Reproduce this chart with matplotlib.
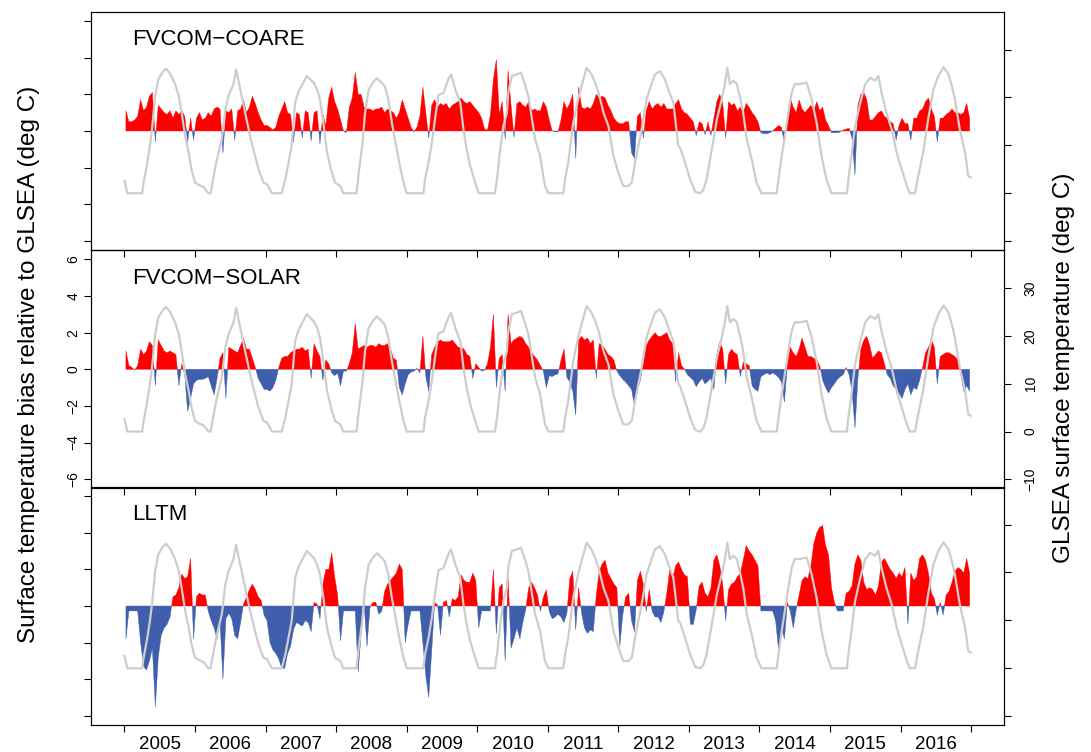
"""Surface temperature bias of three lake models against GLSEA, 2005-2016.

Three stacked panels (FVCOM-COARE, FVCOM-SOLAR, LLTM): daily bias as red/blue
spikes around zero, GLSEA surface temperature as a grey line on a right axis.
"""

import matplotlib.pyplot as plt
import numpy as np

plt.rcParams["font.family"] = ["Liberation Sans", "DejaVu Sans"]

RED = "#FF0000"
BLUE = "#3F5FAD"
GREY = "#CDCDCD"

YEARS = list(range(2005, 2017))
SLOTS_PER_YEAR = 24  # bias at half-month resolution

# ── bias (deg C), 24 values per year, 2005 → 2016 ─────────────────────────
coare_bias = [
    1.1, 0.5, 0.5, 0.6, 0.8, 1.7, 1.1, 1.3, 1.9, 2.1, -0.6, 1.4, 1.2, 1.0, 0.9, 1.1, 0.7, 1.1, 0.9, 1.1, 0.8, -0.6, 0.7, -0.5,
    0.7, 1.0, 0.6, 0.7, 1.0, 0.8, 1.2, 1.3, 1.2, -1.2, 1.1, 1.0, 1.2, -0.5, 1.1, 1.2, 1.7, 1.0, 1.3, 1.9, 1.5, 1.0, 0.6, 0.3,
    0.3, 0.2, 0.05, 0.2, 0.8, 1.2, 1.6, 1.0, 0.9, -0.6, 1.0, 0.9, -0.4, 1.1, 1.0, -0.55, 1.0, 1.1, -0.7, 0.9, 0.3, 1.8, 2.4, 1.6,
    1.2, 0.6, 0.0, -0.1, 1.3, 1.8, 3.2, 2.0, 2.0, 1.3, 1.2, 1.2, 1.1, 1.2, 1.2, 1.3, 1.0, 1.2, 1.1, 1.0, 0.7, 1.0, 1.7, 1.2,
    0.7, 0.2, -0.05, 0.2, 0.8, 2.4, 1.0, -0.4, 1.4, 1.7, 1.3, 1.5, 1.4, 1.5, 1.2, 1.4, 1.5, 1.6, 1.8, 1.6, 1.5, 1.6, 1.4, 1.2,
    1.0, 0.7, 0.1, 0.05, 0.9, 2.8, 3.9, 0.9, 1.6, -0.45, 3.3, 1.4, -0.35, 1.5, 1.6, 1.4, 1.3, 1.6, 1.1, 1.2, 1.1, 1.1, 1.6, 1.3,
    0.6, 0.0, -0.05, -0.05, 0.6, 1.6, 1.2, 1.5, 2.0, -1.5, 2.4, 1.3, 1.2, 1.3, 1.2, 1.5, 2.0, 1.8, 1.9, 1.8, 1.4, 1.1, 0.7, 0.5,
    0.4, 0.4, 0.5, 0.5, -1.2, -1.5, 0.8, 1.0, -0.4, 1.1, 1.6, 1.2, 1.4, 1.5, 1.3, 1.5, 1.2, 1.2, 1.2, 1.5, 1.7, 1.2, 1.0, 0.9,
    0.7, 0.5, -0.25, 0.5, 0.4, -0.2, 0.5, -0.25, 0.7, 1.6, 2.0, 1.5, -0.4, 1.6, 1.4, 1.5, 1.1, 1.3, 1.0, 1.5, 1.3, 1.0, 0.8, 0.5,
    -0.1, -0.15, -0.15, -0.1, 0.0, 0.15, 0.3, 0.2, -0.7, 0.8, 1.8, 1.3, 1.0, 1.7, 1.2, 1.0, 1.2, 1.4, 1.1, 1.6, 1.1, 1.3, 0.6, 0.3,
    -0.1, -0.1, -0.1, -0.05, 0.05, 0.1, 0.15, -0.4, -2.4, 1.4, 2.0, 2.1, 1.7, 0.6, 0.6, 0.8, 1.0, 1.1, 0.8, 0.7, 0.5, 0.4, -0.5, 0.3,
    0.7, 0.4, 0.4, -0.5, 0.7, 0.7, 1.1, 1.2, 1.6, 1.8, 1.2, 0.8, -0.6, 0.7, 0.7, 0.9, 1.0, 1.2, 1.0, 1.0, 0.9, 1.0, 1.5, 0.7,
]

solar_bias = [
    1.0, 0.2, 0.1, -0.05, 0.2, 1.1, 0.8, 1.0, 1.5, 1.3, -0.9, 1.6, 1.3, 1.0, 0.9, 1.0, 0.9, 0.8, -0.9, 0.3, -0.3, -2.3, -1.6, -0.8,
    -0.6, -0.55, -0.55, -0.5, -0.4, -0.9, -1.4, -0.5, 0.6, 0.9, -1.6, 1.2, 1.1, 1.0, 0.9, 1.3, 1.7, 1.1, 1.1, 0.6, 0.1, -0.5, -0.8, -1.1,
    -1.1, -1.2, -1.0, -0.6, 0.1, 0.6, 0.7, 0.7, 0.9, 1.0, 1.1, 1.1, 1.2, 1.0, 1.1, -0.5, 1.4, 1.0, 0.7, -0.6, 0.5, 0.3, -0.2, -0.35,
    -0.2, -0.9, -0.1, -0.1, 0.3, 0.9, 2.5, 1.1, 1.2, 1.3, 1.2, 1.3, 1.3, 1.2, 1.4, 1.3, 1.3, 1.4, 1.1, 0.6, 0.5, -1.0, -1.4, -0.8,
    -0.3, -0.15, -0.1, 0.05, -0.2, 1.8, -0.4, -1.2, 0.8, 1.2, 1.5, 1.6, 1.5, 1.5, 1.5, 1.6, 1.4, 1.2, 1.2, 1.1, 0.8, 0.7, -0.5, 0.3,
    0.1, -0.1, -0.05, 0.3, 1.2, 3.0, -1.0, 0.6, 0.8, -1.2, 3.0, 1.4, 1.6, 1.7, 1.8, 1.7, 1.4, 1.2, 0.9, 0.7, 0.5, 0.2, -0.1, -1.0,
    -0.35, -0.4, -0.3, -0.25, 0.5, 1.1, -0.45, -0.7, -1.2, -2.5, 1.6, 1.8, 1.6, 1.7, 1.4, 1.6, -0.5, 1.4, 1.3, 1.1, 0.8, 0.7, 0.5, -0.1,
    -0.35, -0.55, -0.7, -0.9, -1.1, -2.0, -1.1, -0.6, 0.3, 1.3, 1.6, 1.8, 2.0, 1.8, 1.8, 1.9, 2.0, 1.6, 1.4, -0.7, 0.9, 0.2, 0.0, -0.3,
    -0.45, -0.6, -0.95, -0.7, -0.5, -0.8, -0.65, -0.5, -1.1, 0.8, 1.5, 1.1, -0.8, 0.8, 1.1, 0.9, 0.8, -0.4, 0.4, 0.3, 0.2, -0.9, -1.1, -1.2,
    -0.4, -0.3, -0.2, -0.3, -0.2, -0.3, -0.45, -0.7, -1.8, 0.3, 1.2, 0.9, 0.7, 1.1, 1.7, 1.2, 0.7, 0.7, 0.6, 0.5, 0.2, -0.6, -1.0, -1.3,
    -1.0, -0.8, -0.55, -0.4, -0.3, 0.1, -0.3, -1.2, -3.2, -0.5, 1.1, 1.6, 1.8, 1.3, 0.6, 0.8, 1.0, 0.9, 0.3, -0.3, -0.5, -0.9, -1.1, -1.3,
    -1.6, -1.1, -0.8, -1.4, -1.0, -1.1, -0.6, 0.1, 0.9, 1.2, 1.6, 1.2, -0.8, 0.7, 0.8, 0.9, 0.9, 0.8, 0.7, 0.5, -0.3, -1.2, -0.9, -1.2,
]

lltm_bias = [
    -1.8, -0.27, -0.27, -0.27, -0.27, -2.0, -3.3, -3.5, -3.0, -2.3, -5.5, -2.8, -1.6, -1.2, -1.0, -0.6, 0.5, 0.6, 1.0, 1.75, 1.5, 1.6, 2.6, -1.8,
    0.5, 0.7, 0.6, 0.6, -0.3, -0.8, -1.2, -1.8, -0.8, -4.0, -0.7, -0.4, -0.7, -1.6, -1.8, -0.9, 0.1, 0.5, 0.9, 1.2, 0.9, 0.5, 0.3, -0.5,
    -0.8, -2.0, -2.4, -2.6, -2.9, -3.4, -3.4, -2.6, -2.2, -1.3, -0.9, -1.0, -1.1, -0.8, -0.9, -1.4, 0.2, 0.1, -0.7, 1.2, 2.0, 2.0, 2.9, 1.6,
    0.6, -1.9, -0.27, -0.27, -0.27, -0.27, -0.27, -3.6, -1.5, 0.2, -2.2, -0.1, 0.2, 0.2, -0.45, -0.3, 0.8, 1.2, 1.4, 1.6, 1.8, 2.3, 2.0, -2.0,
    -1.0, -0.27, -0.27, -0.27, -0.27, -2.0, -3.8, -5.0, -2.5, 0.2, 0.05, -1.6, 0.2, 0.3, -0.6, 0.4, 0.3, 0.5, 1.7, 1.4, 1.3, 1.3, 1.8, 1.4,
    -1.2, -0.27, -0.27, -0.27, -0.27, 2.0, -1.5, 1.0, 1.2, -3.0, 1.6, -2.3, -1.8, -1.2, -1.8, -0.9, -0.2, 1.0, 1.3, 1.0, 0.6, -0.3, 0.5, 0.9,
    -0.3, -0.7, -0.6, -0.45, -0.6, -0.9, -0.4, 1.5, 1.9, -1.3, 1.0, -0.4, -1.2, -1.5, -1.3, -1.4, 0.6, 1.9, 2.3, 2.5, 1.8, 1.5, 1.2, 1.0,
    -2.2, -0.5, 0.5, 0.7, -0.8, -1.4, 1.4, 1.9, 1.2, -0.3, 0.9, -0.3, -0.6, -0.6, -0.9, -0.3, 0.7, 2.0, 1.5, 2.2, 2.4, 2.0, 1.7, 1.6,
    -1.0, -1.0, -0.2, 1.1, 1.3, 0.7, 0.5, 1.0, 2.5, 2.8, 2.2, 1.2, -0.8, 0.9, 1.2, 1.3, 1.6, 1.8, 2.5, 3.3, 3.0, 2.8, 2.5, 2.2,
    -0.27, -0.27, -0.27, -0.27, -0.27, -0.8, -2.4, -1.2, -1.8, 0.2, -0.3, -1.2, -0.2, 0.6, 1.4, 1.6, 1.5, 2.2, 3.4, 4.0, 4.3, 4.4, 3.3, 2.8,
    1.0, 0.2, -0.27, -0.27, -0.27, 0.7, 0.8, 1.1, 2.3, 2.8, 2.5, 1.3, 0.9, 1.0, 0.9, 0.6, 1.1, 2.4, 2.6, 2.3, 2.0, 1.8, 1.5, 1.8,
    1.6, 2.1, -1.0, 1.8, 1.4, 1.6, 2.6, 2.8, 2.5, 1.8, 0.7, 0.4, -0.5, 0.2, -0.5, 0.6, 0.8, 1.3, 1.9, 2.1, 2.0, 1.8, 2.6, 1.8,
]

# ── GLSEA surface temperature (deg C), read at turning points ─────────────
glsea_time = [
    2005.00, 2005.04, 2005.25, 2005.27, 2005.32, 2005.36, 2005.39, 2005.435, 2005.48, 2005.55, 2005.59, 2005.65, 2005.72, 2005.77, 2005.81, 2005.86, 2005.91, 2005.95,
    2006.00, 2006.07, 2006.12, 2006.19, 2006.22, 2006.30, 2006.38, 2006.43, 2006.475, 2006.545, 2006.583, 2006.66, 2006.71, 2006.78, 2006.85, 2006.90, 2006.97,
    2007.02, 2007.09, 2007.23, 2007.28, 2007.325, 2007.37, 2007.42, 2007.47, 2007.52, 2007.585, 2007.63, 2007.68, 2007.73, 2007.77, 2007.82, 2007.87, 2007.94, 2007.985,
    2008.06, 2008.10, 2008.29, 2008.32, 2008.37, 2008.41, 2008.46, 2008.53, 2008.58, 2008.65, 2008.69, 2008.74, 2008.79, 2008.83, 2008.90, 2008.954,
    2009.00, 2009.238, 2009.26, 2009.31, 2009.356, 2009.40, 2009.45, 2009.52, 2009.59, 2009.63, 2009.69, 2009.76, 2009.805, 2009.85, 2009.90, 2009.97,
    2010.02, 2010.25, 2010.28, 2010.32, 2010.37, 2010.42, 2010.44, 2010.49, 2010.56, 2010.62, 2010.68, 2010.725, 2010.77, 2010.82, 2010.89, 2010.96,
    2011.01, 2011.22, 2011.245, 2011.29, 2011.36, 2011.43, 2011.48, 2011.55, 2011.62, 2011.67, 2011.72, 2011.79, 2011.86, 2011.93,
    2012.00, 2012.07, 2012.14, 2012.19, 2012.237, 2012.33, 2012.40, 2012.47, 2012.52, 2012.59, 2012.66, 2012.71, 2012.78, 2012.85, 2012.875, 2012.945,
    2013.017, 2013.09, 2013.16, 2013.205, 2013.25, 2013.30, 2013.35, 2013.395, 2013.465, 2013.51, 2013.545, 2013.58, 2013.63, 2013.68, 2013.725, 2013.77, 2013.82, 2013.89, 2013.96,
    2014.03, 2014.245, 2014.27, 2014.316, 2014.36, 2014.41, 2014.457, 2014.50, 2014.575, 2014.67, 2014.74, 2014.81, 2014.88, 2014.95,
    2015.02, 2015.24, 2015.26, 2015.31, 2015.355, 2015.43, 2015.50, 2015.57, 2015.64, 2015.685, 2015.73, 2015.80, 2015.875, 2015.945,
    2016.016, 2016.09, 2016.13, 2016.205, 2016.25, 2016.32, 2016.39, 2016.465, 2016.535, 2016.61, 2016.68, 2016.725, 2016.77, 2016.84, 2016.915, 2016.96, 2016.995,
]
glsea_temp = [
    2.6, 0.0, 0.0, 2.1, 6.0, 9.9, 13.3, 20.3, 23.8, 25.5, 26.0, 24.9, 22.7, 20.3, 16.8, 12.0, 8.5, 5.0,
    2.2, 1.6, 1.3, 0.0, 0.0, 6.4, 11.3, 17.5, 20.3, 22.8, 25.8, 20.3, 16.8, 12.0, 7.8, 5.0, 2.2,
    1.9, 0.0, 0.0, 2.9, 6.4, 9.9, 19.0, 21.3, 22.7, 24.5, 23.8, 23.1, 21.7, 19.6, 14.7, 8.5, 4.3, 2.2,
    1.5, 0.0, 0.0, 4.3, 9.9, 16.8, 21.6, 23.3, 24.0, 23.0, 22.3, 19.6, 14.7, 11.5, 6.0, 2.3,
    0.0, 0.0, 2.9, 6.4, 10.5, 15.3, 20.5, 20.9, 23.8, 24.8, 21.6, 18.9, 13.3, 9.2, 5.7, 2.3,
    0.0, 0.0, 2.9, 8.5, 14.0, 16.8, 21.0, 24.5, 24.8, 25.2, 22.5, 20.3, 16.1, 11.3, 7.8, 1.5,
    0.0, 0.0, 2.9, 6.4, 14.7, 19.6, 22.5, 26.2, 24.8, 23.1, 21.0, 16.8, 14.0, 7.8,
    4.3, 1.5, 1.5, 2.2, 6.4, 13.3, 19.6, 22.8, 24.8, 25.5, 23.8, 21.6, 18.9, 9.9, 9.5, 6.4,
    2.9, 0.3, 0.0, 0.7, 2.9, 7.1, 11.3, 15.3, 19.6, 22.8, 26.2, 22.8, 23.5, 22.8, 20.0, 16.8, 11.3, 7.1, 2.2,
    0.0, 0.0, 2.9, 7.8, 12.0, 16.8, 21.0, 22.8, 22.8, 23.1, 19.6, 14.7, 7.8, 2.9,
    0.0, 0.0, 2.9, 8.5, 14.0, 18.9, 22.8, 24.1, 23.5, 24.5, 21.0, 16.8, 13.3, 8.5,
    5.0, 1.5, 0.0, 0.0, 3.6, 8.5, 15.3, 21.6, 24.5, 26.3, 24.8, 22.5, 19.6, 13.3, 8.5, 3.6, 3.3,
]

panel_names = ["FVCOM\u2212COARE", "FVCOM\u2212SOLAR", "LLTM"]
bias_ticks = [-6, -4, -2, 0, 2, 4, 6]
glsea_ticks = [-10, 0, 10, 20, 30]


def draw_panel(ax, bias, name, show_left, show_years):
    bias = np.asarray(bias)
    t = YEARS[0] + (np.arange(bias.size) + 0.5) / SLOTS_PER_YEAR
    ax.fill_between(t, 0, bias, where=bias >= 0, interpolate=True,
                    color=RED, lw=0.3, zorder=2)
    ax.fill_between(t, 0, bias, where=bias <= 0, interpolate=True,
                    color=BLUE, lw=0.3, zorder=2)
    ax.set_xlim(2004.53, 2017.47)
    ax.set_ylim(-6.5, 6.5)
    ax.set_facecolor("none")

    ax.set_yticks(bias_ticks)
    ax.tick_params(axis="y", direction="out", length=5, width=0.8,
                   labelsize=10, labelrotation=90, pad=3,
                   labelleft=show_left)
    ax.set_xticks(range(2005, 2018))
    ax.set_xticks([y + 0.5 for y in YEARS], minor=True)
    ax.tick_params(axis="x", which="major", direction="out", length=5,
                   width=0.8, labelbottom=False)
    if show_years:
        ax.set_xticklabels([str(y) for y in YEARS], minor=True)
        ax.tick_params(axis="x", which="minor", length=0, labelsize=13.5, pad=8)
    else:
        ax.tick_params(axis="x", which="minor", length=0, labelbottom=False)
    for s in ax.spines.values():
        s.set_linewidth(0.8)

    ax.text(0.0445, 0.86, name, transform=ax.transAxes, fontsize=16,
            ha="left", va="baseline")

    # GLSEA on its own right-hand scale, drawn over the bias spikes
    ax2 = ax.twinx()
    ax2.plot(glsea_time, glsea_temp, color=GREY, lw=1.6, zorder=3)
    ax2.set_ylim(-11.84, 37.84)
    ax2.set_yticks(glsea_ticks)
    ax2.tick_params(axis="y", direction="out", length=5, width=0.8,
                    labelsize=10, labelrotation=90, pad=9,
                    labelright=show_left)
    ax2.set_facecolor("none")
    for lab in ax.get_yticklabels() + ax2.get_yticklabels():
        lab.set_va("center")


fig = plt.figure(figsize=(10.91, 7.52), dpi=100)
left, width, height = 0.0837, 0.8368, 0.3165
bottoms = [0.6676, 0.3507, 0.0359]
series = [coare_bias, solar_bias, lltm_bias]

for i, (b, name, bias) in enumerate(zip(bottoms, panel_names, series)):
    ax = fig.add_axes([left, b, width, height])
    draw_panel(ax, bias, name, show_left=(i == 1), show_years=(i == 2))

fig.text(0.0265, 0.515, "Surface temperature bias relative to GLSEA (deg C)",
         rotation=90, ha="center", va="center", fontsize=17.5)
fig.text(0.975, 0.511, "GLSEA surface temperature (deg C)",
         rotation=90, ha="center", va="center", fontsize=17.5)

fig.savefig("out.png", dpi=100, facecolor="white")
